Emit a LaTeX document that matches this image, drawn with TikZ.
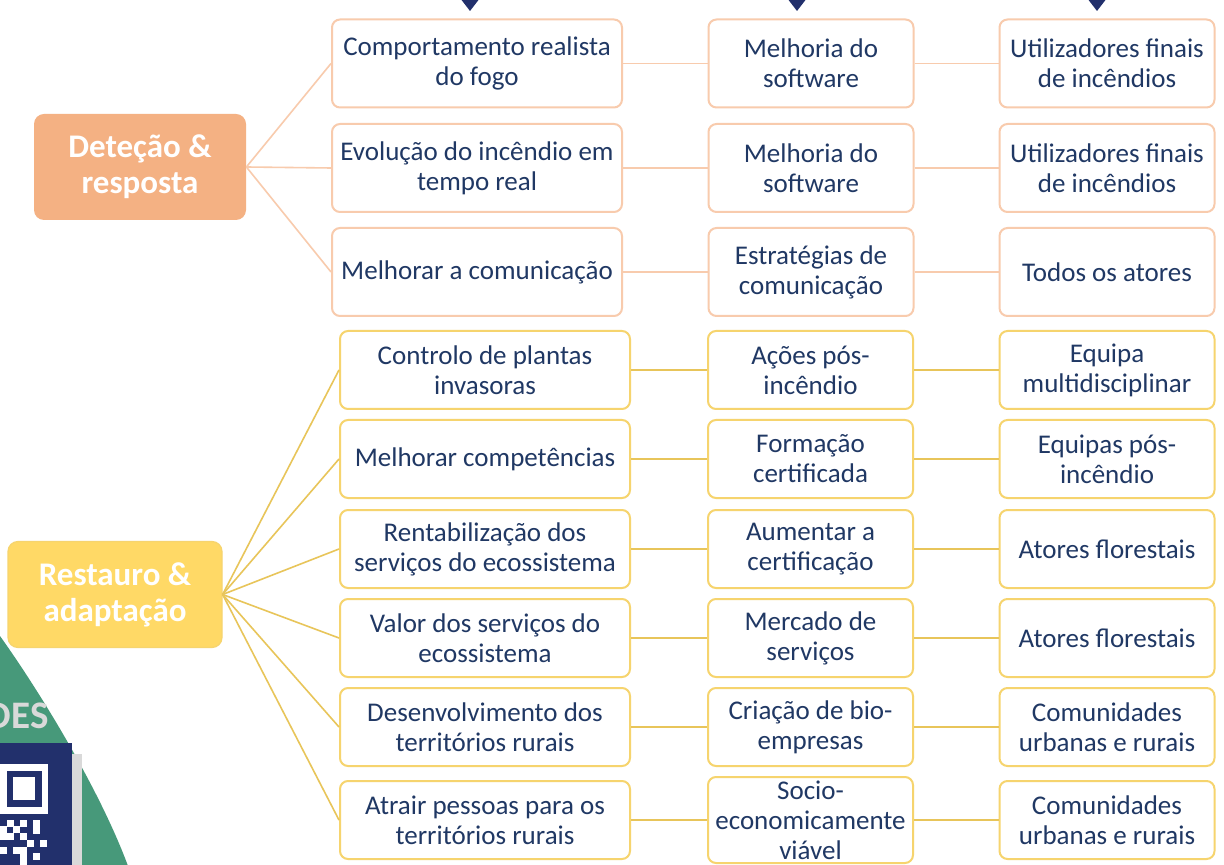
\documentclass[tikz,border=0pt]{standalone}
\usepackage{fontspec}
\setmainfont{Carlito}
\usetikzlibrary{positioning}
\definecolor{textblue}{HTML}{203864}
\definecolor{navy}{HTML}{22306C}
\definecolor{detfill}{HTML}{F4B183}
\definecolor{detline}{HTML}{F8CBAD}
\definecolor{resfill}{HTML}{FFD966}
\definecolor{resline}{HTML}{F6D46E}
\definecolor{reslink}{HTML}{E8C55A}
\definecolor{bggreen}{HTML}{47997A}
\definecolor{qrgray}{HTML}{D9D9D9}
\tikzset{x=0.5pt, y=-0.5pt,
    every node/.style={
        font=\fontsize{13.5}{15}\selectfont,
        text=textblue,
        align=center,
        inner sep=0pt},
    mainbox/.style={
        rounded corners=5pt,
        text=white,
        font=\fontsize{16.5}{18}\selectfont\bfseries},
    detbox/.style={
        mainbox,
        fill=detfill,
        minimum width=106pt,
        minimum height=53pt},
    resbox/.style={
        mainbox,
        fill=resfill,
        draw=resline,
        semithick,
        minimum width=107pt,
        minimum height=53pt},
    obox/.style={
        draw=detline,
        line width=1pt,
        rounded corners=4pt,
        fill=white,
        minimum height=44pt},
    ybox/.style={
        draw=resline,
        line width=1pt,
        rounded corners=4pt,
        fill=white,
        minimum height=39pt},
    cola/.style={minimum width=145pt},
    colb/.style={minimum width=102.5pt},
    colc/.style={minimum width=107.5pt},
    olink/.style={
        draw=detline,
        line width=0.8pt},
    ylink/.style={
        draw=reslink,
        line width=0.8pt}}

\begin{document}
\begin{tikzpicture}
    \clip (0,0) rectangle (1224,865);
    \fill[white] (0,0) rectangle (1224,865);

    % background pieces, bottom left and top
    \fill[bggreen] (0,636) .. controls (40,692) and (100,790) .. (128,866) -- (0,866) -- cycle;
    \node[anchor=base east, text=qrgray, font=\fontsize{19.5}{19.5}\selectfont\bfseries] (des) at (49,728) {DES};
    \fill[navy] (0,743) rectangle (72,866);
    \fill[qrgray] (72,754) rectangle (82,866);
    \fill[white] (0,764) rectangle (48,814);
    \fill[navy] (7,771) rectangle (42,807);
    \fill[white] (13,777) rectangle (35,800);
    \foreach \mx/\my in {7/820,20/820,33/820,0/826,13/826,33/827,0/833,7/833,20/833,27/840,40/840,0/847,13/847,20/847,20/853,33/853,20/860}
        \fill[white] (\mx,\my) rectangle ++(7,7);
    \foreach \ax in {470,797,1097}
        \fill[navy] (\ax-10,-2) -- (\ax+10,-2) -- (\ax,11) -- cycle;

    % Detecao & resposta
    \node[detbox] (det) at (140,167) {Deteção \&\\resposta};

    \node[obox,cola] (oa1) at (477,63.5) {Comportamento realista\\do fogo};
    \node[obox,colb,right of=oa1,node distance=167pt] (ob1) {Melhoria do\\software};
    \node[obox,colc,right of=ob1,node distance=148pt] (oc1) {Utilizadores finais\\de incêndios};

    \node[obox,cola] (oa2) at (477,168) {Evolução do incêndio em\\tempo real};
    \node[obox,colb,right of=oa2,node distance=167pt] (ob2) {Melhoria do\\software};
    \node[obox,colc,right of=ob2,node distance=148pt] (oc2) {Utilizadores finais\\de incêndios};

    \node[obox,cola] (oa3) at (477,272) {Melhorar a comunicação};
    \node[obox,colb,right of=oa3,node distance=167pt] (ob3) {Estratégias de\\comunicação};
    \node[obox,colc,right of=ob3,node distance=148pt] (oc3) {Todos os atores};

    \draw[olink] (det.east) -- (oa1.west);
    \draw[olink] (det.east) -- (oa2.west);
    \draw[olink] (det.east) -- (oa3.west);
    \draw[olink] (oa1) -- (ob1);
    \draw[olink] (ob1) -- (oc1);
    \draw[olink] (oa2) -- (ob2);
    \draw[olink] (ob2) -- (oc2);
    \draw[olink] (oa3) -- (ob3);
    \draw[olink] (ob3) -- (oc3);

    % Restauro & adaptacao
    \node[resbox] (res) at (115,594.5) {Restauro \&\\adaptação};

    \node[ybox,cola] (ya1) at (485,370) {Controlo de plantas\\invasoras};
    \node[ybox,colb,right of=ya1,node distance=162.75pt] (yb1) {Ações pós-\\incêndio};
    \node[ybox,colc,right of=yb1,node distance=148.25pt] (yc1) {Equipa\\multidisciplinar};

    \node[ybox,cola] (ya2) at (485,459) {Melhorar competências};
    \node[ybox,colb,right of=ya2,node distance=162.75pt] (yb2) {Formação\\certificada};
    \node[ybox,colc,right of=yb2,node distance=148.25pt] (yc2) {Equipas pós-\\incêndio};

    \node[ybox,cola] (ya3) at (485,549) {Rentabilização dos\\serviços do ecossistema};
    \node[ybox,colb,right of=ya3,node distance=162.75pt] (yb3) {Aumentar a\\certificação};
    \node[ybox,colc,right of=yb3,node distance=148.25pt] (yc3) {Atores florestais};

    \node[ybox,cola] (ya4) at (485,638) {Valor dos serviços do\\ecossistema};
    \node[ybox,colb,right of=ya4,node distance=162.75pt] (yb4) {Mercado de\\serviços};
    \node[ybox,colc,right of=yb4,node distance=148.25pt] (yc4) {Atores florestais};

    \node[ybox,cola] (ya5) at (485,727) {Desenvolvimento dos\\territórios rurais};
    \node[ybox,colb,right of=ya5,node distance=162.75pt] (yb5) {Criação de bio-\\empresas};
    \node[ybox,colc,right of=yb5,node distance=148.25pt] (yc5) {Comunidades\\urbanas e rurais};

    \node[ybox,cola] (ya6) at (485,820) {Atrair pessoas para os\\territórios rurais};
    \node[ybox,colb,minimum height=43pt,right of=ya6,node distance=162.75pt] (yb6) {Socio-\\economicamente\\viável};
    \node[ybox,colc,right of=yb6,node distance=148.25pt] (yc6) {Comunidades\\urbanas e rurais};

    \draw[ylink] (res.east) -- (ya1.west);
    \draw[ylink] (res.east) -- (ya2.west);
    \draw[ylink] (res.east) -- (ya3.west);
    \draw[ylink] (res.east) -- (ya4.west);
    \draw[ylink] (res.east) -- (ya5.west);
    \draw[ylink] (res.east) -- (ya6.west);
    \draw[ylink] (ya1) -- (yb1);
    \draw[ylink] (yb1) -- (yc1);
    \draw[ylink] (ya2) -- (yb2);
    \draw[ylink] (yb2) -- (yc2);
    \draw[ylink] (ya3) -- (yb3);
    \draw[ylink] (yb3) -- (yc3);
    \draw[ylink] (ya4) -- (yb4);
    \draw[ylink] (yb4) -- (yc4);
    \draw[ylink] (ya5) -- (yb5);
    \draw[ylink] (yb5) -- (yc5);
    \draw[ylink] (ya6) -- (yb6);
    \draw[ylink] (yb6) -- (yc6);
\end{tikzpicture}
\end{document}
